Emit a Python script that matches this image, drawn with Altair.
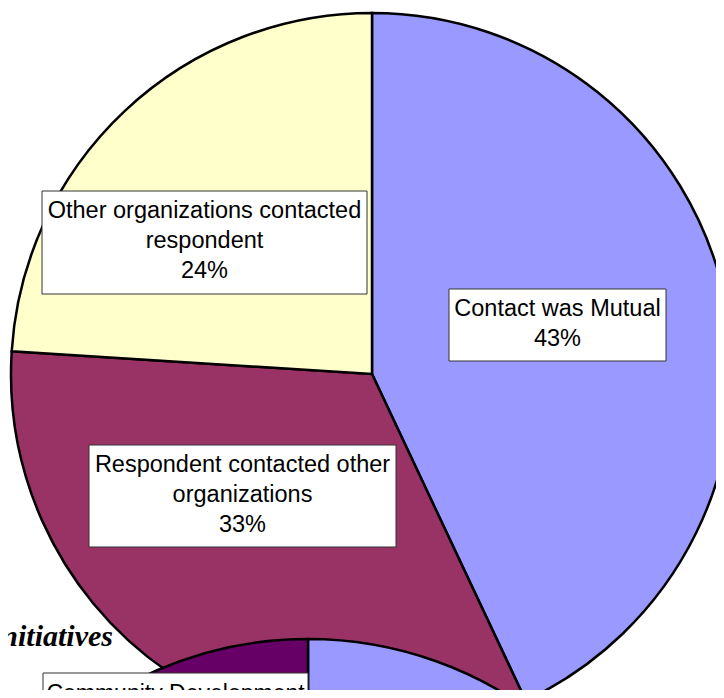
import altair as alt
import pandas as pd

# ---- data ----
categories = [
    "Contact was Mutual",
    "Respondent contacted other organizations",
    "Other organizations contacted respondent",
]
shares = [43, 33, 24]
label_lines = [
    ["Contact was Mutual"],
    ["Respondent contacted other", "organizations"],
    ["Other organizations contacted", "respondent"],
]

# second (mostly hidden) pie: only its top is visible
pie2_categories = [
    "Contact was Mutual",
    "Respondent contacted other organizations",
    "Other organizations contacted respondent",
    "Community Development",
]
pie2_shares = [45, 30, 12, 13]

color_domain = [
    "Contact was Mutual",
    "Respondent contacted other organizations",
    "Other organizations contacted respondent",
    "Community Development",
]
color_range = ["#9999FF", "#993366", "#FFFFCC", "#660066"]

title_fragment = "initiatives"

# ---- build tables ----
df1 = pd.DataFrame({"category": categories, "share": shares, "order": list(range(len(categories)))})
df2 = pd.DataFrame({"category": pie2_categories, "share": pie2_shares, "order": list(range(len(pie2_categories)))})

color = alt.Color("category:N", scale=alt.Scale(domain=color_domain, range=color_range), legend=None)

pie1 = alt.Chart(df1).mark_arc(outerRadius=361, stroke="black", strokeWidth=2.5).encode(
    theta=alt.Theta("share:Q", stack=True),
    order=alt.Order("order:Q"),
    color=color,
    x=alt.value(364),
    y=alt.value(366),
)

pie2 = alt.Chart(df2).mark_arc(outerRadius=380, stroke="black", strokeWidth=2.5).encode(
    theta=alt.Theta("share:Q", stack=True),
    order=alt.Order("order:Q"),
    color=color,
    x=alt.value(300),
    y=alt.value(1011),
)

FONT = "Liberation Sans"


def label_box(text, box, cx, ty, size=23.5):
    x0, x1, y0, y1 = box
    rect = alt.Chart(pd.DataFrame({"t": [text]})).mark_rect(
        fill="white", stroke="#333333", strokeWidth=1
    ).encode(x=alt.value(x0), x2=alt.value(x1), y=alt.value(y0), y2=alt.value(y1))
    txt = alt.Chart(pd.DataFrame({"t": [text]})).mark_text(
        align="center", baseline="alphabetic", lineBreak="\n", lineHeight=30,
        fontSize=size, font=FONT, color="black",
    ).encode(x=alt.value(cx), y=alt.value(ty), text="t:N")
    return rect + txt


texts = ["\n".join(lines + [f"{s}%"]) for lines, s in zip(label_lines, shares)]

lab_mutual = label_box(texts[0], (441, 658, 281, 353), 549.5, 308)
lab_resp = label_box(texts[1], (81, 388, 437, 539), 234.5, 464)
lab_other = label_box(texts[2], (34, 359, 183, 286), 196.5, 210)
lab_cd = label_box("Community Development", (35, 300, 665, 730), 167.5, 693, size=23)

title = alt.Chart(pd.DataFrame({"t": [title_fragment]})).mark_text(
    align="right", baseline="alphabetic", font="Liberation Serif",
    fontSize=30, fontWeight="bold", fontStyle="italic", color="black",
).encode(x=alt.value(105), y=alt.value(638), text="t:N")

chart = alt.layer(
    pie1, lab_mutual, lab_resp, lab_other, title, pie2, lab_cd
).resolve_scale(theta="independent").properties(
    width=708, height=682, autosize=alt.AutoSizeParams(type="none"), padding=0,
    background="white",
).configure_view(stroke=None)

chart.save("out.html", embed_options={"renderer": "svg", "actions": False})
